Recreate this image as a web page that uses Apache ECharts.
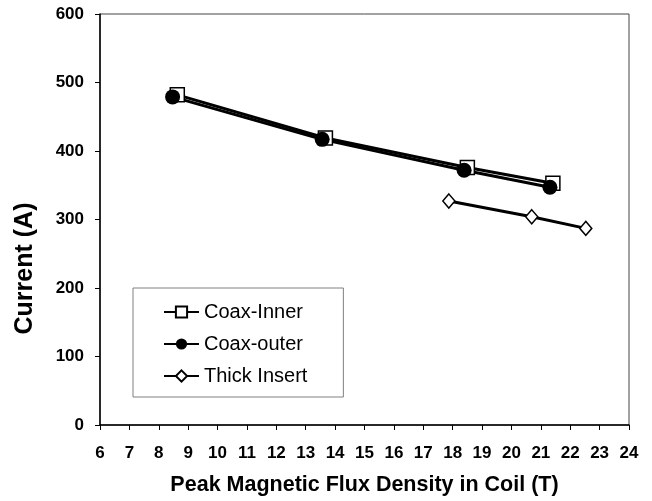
<!DOCTYPE html>
<html>
<head>
<meta charset="utf-8">
<script src="https://cdn.jsdelivr.net/npm/echarts@6/dist/echarts.min.js"></script>
<style>
  html, body { margin: 0; padding: 0; background: #fff; }
  #chart { width: 652px; height: 501px; }
</style>
</head>
<body>
<div id="chart"></div>
<script>
// values: [flux density (T), current (A)]
const coaxInner = [[8.63, 482], [13.67, 419], [18.5, 376], [21.41, 353]];
const coaxOuter = [[8.47, 479], [13.56, 417], [18.39, 372], [21.31, 347]];
const thickInsert = [[17.87, 327], [20.69, 304], [22.53, 287]];

const font = "'Liberation Sans', Arial, sans-serif";

const chart = echarts.init(document.getElementById("chart"));
chart.setOption({
    animation: false,
    backgroundColor: "#fff",
    grid: {
        left: 100,
        right: 23,
        top: 14,
        bottom: 73,
        show: true,
        borderColor: "#444",
        borderWidth: 1,
    },
    legend: {
        orient: "vertical",
        left: 133,
        top: 288,
        padding: [14, 36, 11, 30],
        itemGap: 12,
        itemWidth: 35,
        itemHeight: 14,
        borderColor: "#808080",
        borderWidth: 1,
        backgroundColor: "#fff",
        textStyle: { fontFamily: font, fontSize: 20, color: "#000" },
        data: ["Coax-Inner", "Coax-outer", "Thick Insert"],
    },
    xAxis: {
        type: "value",
        min: 6,
        max: 24,
        interval: 1,
        name: "Peak Magnetic Flux Density in Coil (T)",
        nameLocation: "middle",
        nameGap: 49,
        nameTextStyle: { fontFamily: font, fontSize: 21.5, fontWeight: "bold", color: "#000" },
        axisLine: { lineStyle: { color: "#000", width: 1.5 } },
        axisTick: { inside: false, length: 5, lineStyle: { color: "#000" } },
        axisLabel: { margin: 20, fontFamily: font, fontSize: 17, fontWeight: "bold", color: "#000" },
        splitLine: { show: false },
    },
    yAxis: {
        type: "value",
        min: 0,
        max: 600,
        interval: 100,
        name: "Current (A)",
        nameLocation: "middle",
        nameGap: 62,
        nameTextStyle: {
            fontFamily: font, fontSize: 25, fontWeight: "bold", color: "#000",
            padding: [0, 98, 0, 0],
        },
        axisLine: { lineStyle: { color: "#000", width: 1.5 } },
        axisTick: { inside: false, length: 5, lineStyle: { color: "#000" } },
        axisLabel: { margin: 16, fontFamily: font, fontSize: 17, fontWeight: "bold", color: "#000" },
        splitLine: { show: false },
    },
    series: [
        {
            name: "Coax-Inner",
            type: "line",
            data: coaxInner,
            symbol: "rect",
            symbolSize: 14,
            lineStyle: { color: "#000", width: 3 },
            itemStyle: { color: "#fff", borderColor: "#000", borderWidth: 1.5 },
        },
        {
            name: "Coax-outer",
            type: "line",
            data: coaxOuter,
            symbol: "circle",
            symbolSize: 15,
            lineStyle: { color: "#000", width: 3 },
            itemStyle: { color: "#000", borderColor: "#000", borderWidth: 0 },
        },
        {
            name: "Thick Insert",
            type: "line",
            data: thickInsert,
            symbol: "diamond",
            symbolSize: [12, 14],
            lineStyle: { color: "#000", width: 3 },
            itemStyle: { color: "#fff", borderColor: "#000", borderWidth: 1.5 },
        },
    ],
});
</script>
</body>
</html>
